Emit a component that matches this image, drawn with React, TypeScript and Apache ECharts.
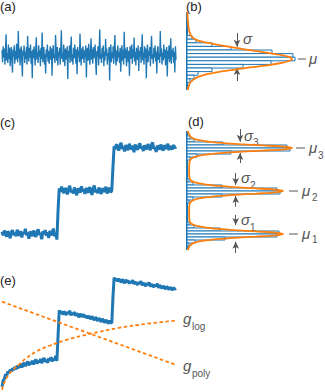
import React, { useEffect, useRef } from 'react';
import * as echarts from 'echarts';

// (a) stationary noise trace
const noiseA = [
  0.6, -0.9, 1.1, -0.3, 0.8, -1.2, 0.4, 2.6, -0.7, 0.2, -1.0, 1.3, -0.5, 0.9, -1.4, 0.1, 1.0, -0.8, -2.2, 0.7,
  -0.2, 1.2, -1.1, 0.5, -0.6, 1.4, 0.0, -0.9, 3.0, -0.4, 0.8, -1.3, 0.3, 1.1, -0.7, -2.7, 0.6, -0.1, 1.2, -1.0,
  0.4, -0.5, 1.0, -1.2, 2.4, 0.2, -0.8, 0.9, -0.3, 1.3, -1.1, 0.5, -2.9, 0.7, -0.4, 1.1, 0.0, -1.3, 0.8, 2.2,
  -0.6, 0.3, -1.0, 1.2, -0.2, 0.6, -1.4, 0.9, -0.5, 2.8, -0.9, 0.4, 1.0, -1.2, 0.1, -2.3, 0.7, -0.3, 1.3, -0.8,
  0.5, -1.1, 0.2, 1.1, -0.6, 0.8, -2.6, 0.3, 1.2, -0.4, 0.0, -1.0, 2.5, 0.6, -0.7, 1.0, -1.3, 0.4, -0.2, 0.9,
  -1.2, 0.7, 3.1, -0.5, 0.2, -0.9, 1.3, -0.1, -1.4, 0.8, 0.3, -0.6, 1.1, -3.0, 0.5, -0.3, 1.2, -1.0, 0.6, 2.3,
  -0.8, 0.1, -1.2, 0.9, -0.4, 1.3, 0.2, -1.1, 0.7, -2.4, 1.0, -0.2, 0.5, -0.9, 2.7, 0.3, -1.3, 0.8, -0.5, 1.1,
  0.0, -1.0, 0.6, -0.3, 1.2, -2.8, 0.4, 0.9, -0.7, 1.4, -0.1, -1.2, 0.3, 2.1, -0.6, 0.7, -1.1, 1.0, -0.4, 0.2,
  1.3, -0.8, -2.5, 0.5, -0.2, 1.1, -1.3, 0.6, 3.2, -0.5, 0.1, -1.0, 0.9, -0.3, 1.2, -1.4, 0.4, -0.7, 2.0, -0.1,
  0.8, -1.2, 0.2, -0.6, 1.0, -3.2, 0.5, 1.3, -0.9, 0.3, -0.4, 1.1, -1.1, 0.7, 2.5, -0.2, -1.3, 0.6, -0.8, 1.2,
  -0.3, 0.4, -1.0, 0.9, -2.1, 0.1, 1.2, -0.7, 0.6, -1.2, 2.9, -0.4, 0.8, -0.1, -1.4, 1.0, 0.3, -0.9, 0.5, -2.6,
  1.1, -0.5, 0.2, 1.3, -1.1, 0.7, -0.3, 2.2, -0.8, 0.4, -1.3, 0.9, 0.0, -0.6, 1.2, -2.0, 0.5, -0.2, 1.0, -1.0,
  0.6, 2.6, -0.7, 0.3, -1.2, 1.1, -0.4, 0.8, -2.9, 0.2, 1.3, -0.9, 0.5, -0.1, 1.0, -1.4, 0.7, 2.4, -0.5, 0.1,
  -1.1, 0.9, -0.3, 1.2, -0.8, 0.4, -2.3, 0.6, 1.1, -0.6, 0.2, -1.0, 3.0, -0.2, 0.8, -1.2, 0.3, -0.7, 1.3, -0.4,
  0.7, -1.3, 0.1, 1.0, -2.7, 0.5, -0.5, 1.2, -0.9, 0.3, 2.1, -1.1, 0.6, -0.2, 0.9, -1.0, 0.4, -2.2, 1.1, -0.6,
];

// (b) histogram of (a): [bin centre, count] and fitted gaussian [count, value]
const histB = [
  [2.7, 5], [2.25, 9], [1.8, 25], [1.35, 44], [0.9, 85], [0.45, 106], [0, 108],
  [-0.45, 84], [-0.9, 56], [-1.35, 25], [-1.8, 11], [-2.25, 7], [-2.7, 3],
];
const fitB = [
  [0.3, 5.875], [0.8, 5.0], [1.3, 4.2], [2.0, 3.6], [3.2, 3.1], [5.5, 2.7], [9, 2.4], [16, 2.15],
  [24, 1.95], [34, 1.7], [46, 1.45], [58, 1.2], [71, 0.95], [84, 0.7], [96, 0.45], [103, 0.2], [105, 0.0],
  [102, -0.25], [94, -0.5], [80, -0.8], [63, -1.05], [46, -1.35], [32, -1.6], [20, -1.9], [12, -2.2],
  [6.5, -2.55], [3.5, -2.9], [2.0, -3.3], [0.6, -3.875],
];
const axisB = [[0, -3.875], [0, 5.875]];

// (c) three-level step trace
const stepC = [
  1.05, 0.97, 1.08, 1.00, 0.94, 1.06, 1.02, 0.90, 1.04, 1.09, 0.98, 1.03, 0.95, 1.10, 1.01, 0.96, 1.07, 0.92, 1.04, 1.00,
  1.12, 0.97, 1.03, 0.89, 1.06, 1.01, 0.95, 1.08, 1.02, 0.93, 1.05, 1.11, 0.98, 1.02, 0.88, 1.06, 1.00, 1.09, 0.96, 1.04,
  0.91, 1.07, 1.03, 0.97, 1.13, 0.95, 1.02, 0.87,
  1.55,
  2.06, 1.98, 2.10, 2.01, 1.95, 2.07, 2.03, 1.92, 2.05, 2.12, 1.97, 2.02, 1.94, 2.08, 2.00, 1.90, 2.06, 2.03, 1.96, 2.11,
  1.99, 2.04, 1.93, 2.07, 2.01, 1.96, 2.09, 2.02, 1.91, 2.05, 2.13, 1.97, 2.03, 1.95, 2.08, 2.00, 1.93, 2.06, 2.02, 1.98,
  2.10, 1.94, 2.04, 2.07, 1.97, 2.01,
  2.55,
  3.04, 2.97, 3.09, 3.01, 2.94, 3.06, 3.12, 2.98, 3.03, 2.92, 3.07, 3.00, 2.95, 3.10, 3.02, 2.97, 3.05, 2.90, 3.08, 3.01,
  2.96, 3.04, 3.11, 2.99, 3.03, 2.93, 3.06, 3.00, 2.97, 3.09, 3.02, 2.95, 3.07, 3.13, 2.98, 3.01, 2.91, 3.05, 3.03, 2.96,
  3.08, 3.00, 2.94, 3.06, 3.02, 2.98, 3.10, 2.95, 3.04, 3.01, 2.97, 3.07, 3.00, 3.03,
];

// (d) histogram of (c) and fitted three-gaussian curve
const histD = [
  [3.245, 3], [3.175, 7], [3.105, 36], [3.035, 100], [2.965, 103], [2.895, 44], [2.825, 10], [2.755, 3],
  [2.245, 2], [2.175, 6], [2.105, 35], [2.035, 90], [1.965, 93], [1.895, 35], [1.825, 6], [1.755, 2],
  [1.245, 2], [1.175, 7], [1.105, 33], [1.035, 92], [0.965, 90], [0.895, 38], [0.825, 8], [0.755, 2],
];
const fitD = [
  [0.5, 0.628], [2.2, 0.70], [3.8, 0.75], [7.7, 0.80], [19, 0.85], [31, 0.88], [48, 0.91], [69, 0.94], [89, 0.97],
  [96, 1.0], [89, 1.03], [69, 1.06], [48, 1.09], [31, 1.12], [19, 1.15], [7.7, 1.20], [3.8, 1.25], [2.6, 1.30],
  [2.2, 1.40], [2.2, 1.50], [2.2, 1.60], [2.6, 1.70], [3.8, 1.75], [7.7, 1.80], [19, 1.85], [31, 1.88], [48, 1.91],
  [69, 1.94], [89, 1.97], [96, 2.0], [89, 2.03], [69, 2.06], [48, 2.09], [31, 2.12], [19, 2.15], [7.7, 2.20],
  [3.8, 2.25], [2.6, 2.30], [2.2, 2.40], [2.2, 2.50], [2.2, 2.60], [2.8, 2.70], [4.2, 2.75], [8.4, 2.80], [21, 2.85],
  [34, 2.88], [52, 2.91], [76, 2.94], [98, 2.97], [105, 3.0], [98, 3.03], [76, 3.06], [52, 3.09], [34, 3.12],
  [21, 3.15], [8.4, 3.20], [4.2, 3.25], [2.6, 3.30], [0.5, 3.395],
];
const axisD = [[0, 0.628], [0, 3.395]];

// (e) step trace with drift, and two baseline guesses
const driftE = [
  0.12, 0.27, 0.30, 0.41, 0.38, 0.47, 0.44, 0.52, 0.48, 0.55, 0.51, 0.58, 0.53, 0.61, 0.56, 0.60, 0.66, 0.57, 0.63, 0.68,
  0.60, 0.66, 0.71, 0.62, 0.69, 0.65, 0.73, 0.64, 0.70, 0.76, 0.66, 0.72, 0.69, 0.77, 0.67, 0.74, 0.79, 0.70, 0.75, 0.68,
  0.78, 0.73, 0.81, 0.71, 0.77, 0.74, 0.84, 0.72,
  1.30,
  1.90, 1.83, 1.88, 1.80, 1.87, 1.84, 1.79, 1.86, 1.82, 1.89, 1.78, 1.84, 1.80, 1.86, 1.77, 1.83, 1.79, 1.74, 1.82, 1.78,
  1.75, 1.81, 1.73, 1.78, 1.71, 1.77, 1.74, 1.69, 1.76, 1.72, 1.67, 1.74, 1.70, 1.65, 1.72, 1.68, 1.63, 1.70, 1.66, 1.61,
  1.68, 1.64, 1.59, 1.66, 1.62, 1.60,
  2.20,
  2.66, 2.60, 2.64, 2.57, 2.63, 2.59, 2.55, 2.62, 2.58, 2.53, 2.61, 2.56, 2.59, 2.52, 2.57, 2.54, 2.60, 2.51, 2.56, 2.53,
  2.49, 2.55, 2.52, 2.58, 2.48, 2.54, 2.50, 2.46, 2.53, 2.49, 2.55, 2.45, 2.51, 2.47, 2.44, 2.50, 2.46, 2.52, 2.42, 2.48,
  2.45, 2.41, 2.47, 2.43, 2.39, 2.46, 2.42, 2.38, 2.44, 2.40, 2.37, 2.43, 2.39, 2.41,
];
const gLog = [
  [0, 0.05], [2, 0.22], [5, 0.38], [10, 0.53], [15, 0.65], [20, 0.77], [30, 0.95], [40, 1.07],
  [55, 1.21], [75, 1.35], [100, 1.49], [125, 1.59], [149, 1.66],
];
const gPoly = [[0, 2.1], [149, 0.63]];

// sigma arrows (data coordinates): [[x, yFrom], [x, yTo]]
const arrowsB = [
  [[50, 3.25], [50, 1.54]],
  [[50, -2.75], [50, -1.125]],
];
const arrowsD = [
  [[53, 3.44], [53, 3.147]],
  [[53, 2.651], [53, 2.884]],
  [[48.7, 2.419], [48.7, 2.14]],
  [[48.7, 1.635], [48.7, 1.884]],
  [[48.7, 1.442], [48.7, 1.209]],
  [[48.7, 0.558], [48.7, 0.821]],
];

const BLUE = '#1f77b4';
const ORANGE = '#ff7f0e';
const GRAY = '#555';
const FONT = '"Liberation Sans", Arial, sans-serif';

function histRenderer(binH: number) {
  return (params: any, api: any) => {
    const v = api.value(0);
    const c = api.value(1);
    const p0 = api.coord([0, v + binH / 2]);
    const p1 = api.coord([c, v - binH / 2]);
    return {
      type: 'rect',
      shape: { x: p0[0], y: p0[1], width: p1[0] - p0[0], height: p1[1] - p0[1] },
      style: { fill: '#ffffff', stroke: BLUE, lineWidth: 1 },
    };
  };
}

function txt(text: string, x: number, y: number, size: number, opts: any = {}) {
  return {
    type: 'text',
    x,
    y,
    silent: true,
    style: {
      text,
      fill: opts.fill || GRAY,
      fontSize: size,
      fontFamily: FONT,
      fontStyle: opts.italic ? 'italic' : 'normal',
      align: 'left',
      verticalAlign: opts.va || 'middle',
    },
  };
}
function dash(x1: number, x2: number, y: number) {
  return { type: 'line', silent: true, shape: { x1, y1: y, x2, y2: y }, style: { stroke: GRAY, lineWidth: 1 } };
}

function arrowMark(list: number[][][]) {
  return {
    silent: true,
    symbol: ['none', 'arrow'],
    symbolSize: [5, 7],
    lineStyle: { color: GRAY, width: 1, type: 'solid' },
    label: { show: false },
    emphasis: { disabled: true },
    data: list.map(([a, b]) => [{ coord: a }, { coord: b }]),
  };
}

const hiddenAxis = (gridIndex: number, min: number, max: number) => ({
  type: 'value', gridIndex, min, max, show: false,
});

export default function App() {
  const ref = useRef<HTMLDivElement>(null);
  useEffect(() => {
    document.body.style.margin = '0';
    const chart = echarts.init(ref.current!, null, { renderer: 'svg' });
    const option: any = {
      animation: false,
      backgroundColor: '#ffffff',
      grid: [
        { left: 2, top: 15, width: 174, height: 80 },
        { left: 187, top: 12, width: 120, height: 78 },
        { left: 2, top: 120, width: 174, height: 150 },
        // wider vertical extent (43 px per unit) so the sigma arrows fit
        { left: 187, top: 126.5, width: 120, height: 129 },
        { left: 2, top: 263, width: 174, height: 129 },
      ],
      xAxis: [
        hiddenAxis(0, 0, noiseA.length - 1),
        hiddenAxis(1, 0, 120),
        hiddenAxis(2, 0, stepC.length - 1),
        hiddenAxis(3, 0, 120),
        hiddenAxis(4, 0, driftE.length - 1),
      ],
      yAxis: [
        hiddenAxis(0, -5, 5),
        hiddenAxis(1, -3.875, 5.875),
        hiddenAxis(2, 0.163, 3.651),
        hiddenAxis(3, 0.5, 3.5),
        hiddenAxis(4, 0, 3),
      ],
      series: [
        {
          type: 'line', xAxisIndex: 0, yAxisIndex: 0, showSymbol: false,
          data: noiseA.map((v, i) => [i, v]),
          lineStyle: { color: BLUE, width: 1.35 },
        },
        {
          type: 'line', xAxisIndex: 1, yAxisIndex: 1, showSymbol: false, z: 1,
          data: axisB, lineStyle: { color: BLUE, width: 2 },
        },
        {
          type: 'custom', xAxisIndex: 1, yAxisIndex: 1, z: 2,
          renderItem: histRenderer(0.45), encode: { x: 1, y: 0 }, data: histB,
        },
        {
          type: 'line', xAxisIndex: 1, yAxisIndex: 1, showSymbol: false, smooth: 0.3, clip: false, z: 5,
          data: fitB, lineStyle: { color: ORANGE, width: 1.8 },
          markLine: arrowMark(arrowsB),
        },
        {
          type: 'line', xAxisIndex: 2, yAxisIndex: 2, showSymbol: false,
          data: stepC.map((v, i) => [i, v]),
          lineStyle: { color: BLUE, width: 3 },
        },
        {
          type: 'line', xAxisIndex: 3, yAxisIndex: 3, showSymbol: false, z: 1,
          data: axisD, lineStyle: { color: BLUE, width: 2 },
        },
        {
          type: 'custom', xAxisIndex: 3, yAxisIndex: 3, z: 2,
          renderItem: histRenderer(0.07), encode: { x: 1, y: 0 }, data: histD,
        },
        {
          type: 'line', xAxisIndex: 3, yAxisIndex: 3, showSymbol: false, smooth: 0.3, clip: false, z: 5,
          data: fitD, lineStyle: { color: ORANGE, width: 1.8 },
          markLine: arrowMark(arrowsD),
        },
        {
          type: 'line', xAxisIndex: 4, yAxisIndex: 4, showSymbol: false,
          data: driftE.map((v, i) => [i, v]),
          lineStyle: { color: BLUE, width: 3 },
        },
        {
          type: 'line', xAxisIndex: 4, yAxisIndex: 4, showSymbol: false, smooth: true, z: 5,
          data: gLog, lineStyle: { color: ORANGE, width: 1.8, type: [3.5, 2.5] },
        },
        {
          type: 'line', xAxisIndex: 4, yAxisIndex: 4, showSymbol: false, z: 5,
          data: gPoly, lineStyle: { color: ORANGE, width: 1.8, type: [3.5, 2.5] },
        },
      ],
      graphic: [
        txt('(a)', 0, 0, 13, { fill: '#222', va: 'top' }),
        txt('(b)', 186, 0, 13, { fill: '#222', va: 'top' }),
        txt('(c)', 0, 116, 13, { fill: '#222', va: 'top' }),
        txt('(d)', 188, 115, 13, { fill: '#222', va: 'top' }),
        txt('(e)', 0, 274, 13, { fill: '#222', va: 'top' }),
        // (b)
        txt('σ', 243, 38, 15, { italic: true }),
        dash(298, 306, 59),
        txt('μ', 309, 58, 15, { italic: true }),
        // (d)
        txt('σ', 244, 135, 15, { italic: true }),
        txt('3', 253, 142, 10),
        txt('σ', 241, 177, 15, { italic: true }),
        txt('2', 250, 185, 10),
        txt('σ', 241, 219, 15, { italic: true }),
        txt('1', 250, 227, 10),
        dash(296, 305, 148),
        txt('μ', 309, 147, 15, { italic: true }),
        txt('3', 318, 155, 10),
        dash(289, 298, 191),
        txt('μ', 302, 190, 15, { italic: true }),
        txt('2', 312, 197, 10),
        dash(289, 298, 234),
        txt('μ', 302, 233, 15, { italic: true }),
        txt('1', 312, 239, 10),
        // (e)
        txt('g', 183, 318, 15, { italic: true }),
        txt('log', 192, 326, 10),
        txt('g', 183, 365, 15, { italic: true }),
        txt('poly', 192, 373, 10),
      ],
    };
    chart.setOption(option);
    return () => chart.dispose();
  }, []);
  return <div ref={ref} style={{ width: 325, height: 392, position: 'absolute', left: 0, top: 0 }} />;
}
